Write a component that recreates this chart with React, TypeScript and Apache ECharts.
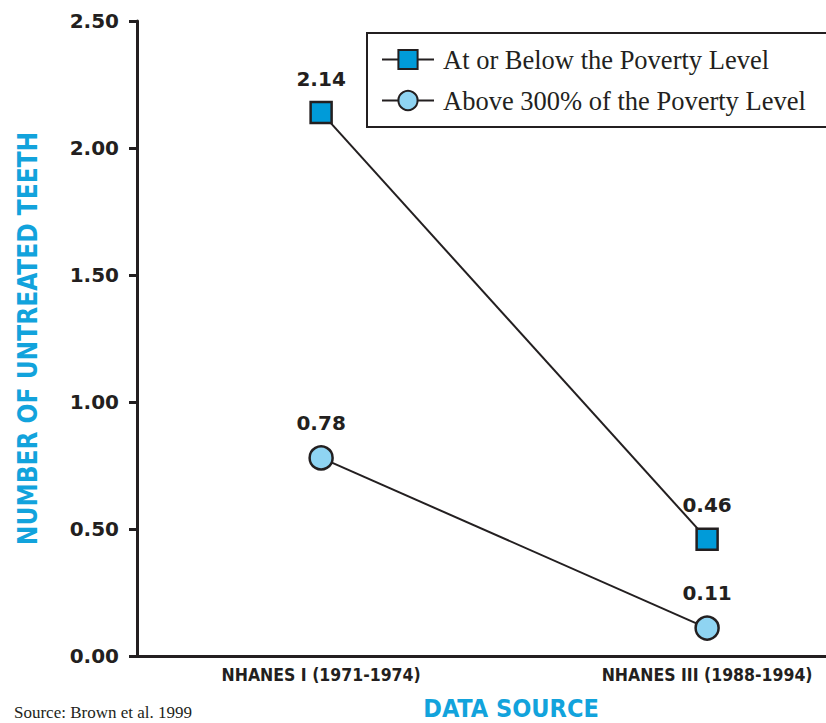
import React, { useEffect, useRef } from "react";
import * as echarts from "echarts";

const categories = ["NHANES I (1971-1974)", "NHANES III (1988-1994)"];
const categoryPositions = [1, 2];
const povertyValues = [2.14, 0.46];
const above300Values = [0.78, 0.11];
const yTicks = [0, 0.5, 1, 1.5, 2, 2.5];
const seriesNames = ["At or Below the Poverty Level", "Above 300% of the Poverty Level"];

const DARK = "#231f20";
const CYAN = "#12a3dc";

export default function App() {
  const ref = useRef<HTMLDivElement>(null);
  useEffect(() => {
    if (!ref.current) return;
    const chart = echarts.init(ref.current, null, { renderer: "svg" });
    const labelStyle = {
      show: true,
      position: "top" as const,
      distance: 12,
      fontFamily: "DejaVu Sans",
      fontWeight: "bold" as const,
      fontSize: 20,
      color: DARK,
      formatter: (p: any) => Number(p.value[1]).toFixed(2),
    };
    chart.setOption({
      animation: false,
      backgroundColor: "#ffffff",
      title: {
        text: "DATA SOURCE",
        left: 506,
        top: 691,
        textAlign: "center",
        textStyle: {
          fontFamily: "DejaVu Sans Condensed",
          fontWeight: "bold",
          fontSize: 25,
          color: CYAN,
        },
      },
      grid: { left: 137, right: 0, top: 21, bottom: 67 },
      legend: {
        orient: "vertical",
        left: 367,
        top: 33,
        width: 455,
        backgroundColor: "#ffffff",
        borderColor: DARK,
        borderWidth: 2,
        borderRadius: 0,
        padding: [13, 44, 13, 14],
        itemGap: 14,
        itemWidth: 52,
        itemHeight: 24,
        textStyle: {
          fontFamily: "Liberation Serif",
          fontSize: 26.5,
          color: DARK,
          padding: [0, 0, 0, 4],
        },
        data: seriesNames,
      },
      xAxis: {
        type: "value",
        min: 0.523,
        max: 2.308,
        splitLine: { show: false },
        axisLine: { show: true, lineStyle: { color: DARK, width: 3 } },
        axisTick: { show: false },
        axisLabel: {
          customValues: categoryPositions,
          formatter: (v: number) => {
            const i = categoryPositions.indexOf(Math.round(v));
            return i >= 0 ? categories[i] : "";
          },
          margin: 10,
          fontFamily: "DejaVu Sans Condensed",
          fontWeight: "bold",
          fontSize: 17.5,
          color: DARK,
        },
      },
      yAxis: {
        type: "value",
        min: 0,
        max: 2.5,
        interval: 0.5,
        name: "NUMBER OF UNTREATED TEETH",
        nameLocation: "middle",
        nameGap: 96,
        nameRotate: 90,
        nameTextStyle: {
          fontFamily: "DejaVu Sans Condensed",
          fontWeight: "bold",
          fontSize: 26,
          color: CYAN,
        },
        splitLine: { show: false },
        axisLine: { show: true, lineStyle: { color: DARK, width: 3 } },
        axisTick: { show: true, length: 8, lineStyle: { color: DARK, width: 3 } },
        axisLabel: {
          margin: 18,
          fontFamily: "DejaVu Sans",
          fontWeight: "bold",
          fontSize: 20,
          color: DARK,
          formatter: (v: number) => (yTicks.includes(v) ? v.toFixed(2) : ""),
        },
      },
      series: [
        {
          name: seriesNames[0],
          type: "line",
          data: categoryPositions.map((x, i) => [x, povertyValues[i]]),
          symbol: "rect",
          symbolSize: 21,
          lineStyle: { color: DARK, width: 2 },
          itemStyle: { color: "#009bd9", borderColor: DARK, borderWidth: 2.5 },
          label: labelStyle,
        },
        {
          name: seriesNames[1],
          type: "line",
          data: categoryPositions.map((x, i) => [x, above300Values[i]]),
          symbol: "circle",
          symbolSize: 23,
          lineStyle: { color: DARK, width: 2 },
          itemStyle: { color: "#8fd4f2", borderColor: DARK, borderWidth: 2.5 },
          label: labelStyle,
        },
      ],
      graphic: [
        {
          type: "text",
          left: 14,
          top: 704,
          style: {
            text: "Source: Brown et al. 1999",
            font: "17px 'Liberation Serif'",
            fill: DARK,
          },
        },
      ],
    });
    return () => chart.dispose();
  }, []);
  return (
    <div
      ref={ref}
      style={{ position: "fixed", left: 0, top: 0, width: 826, height: 723 }}
    />
  );
}
